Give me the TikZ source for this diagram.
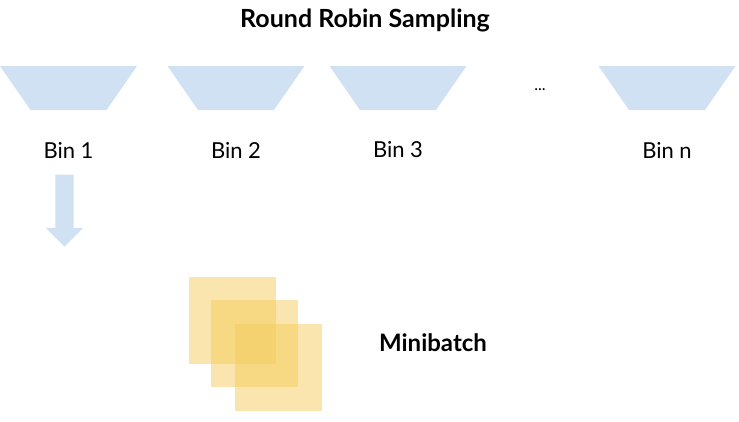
\documentclass[tikz,border=0pt]{standalone}
\usepackage{fontspec}
\setmainfont{Lato}
\usetikzlibrary{shapes.arrows}
\definecolor{binblue}{RGB}{207,225,243}
\definecolor{batchyellow}{RGB}{244,204,92}
\tikzset{
  bin/.style={fill=binblue},
  binlabel/.style={font=\fontsize{22}{25}\selectfont},
  sample/.style={rectangle,fill=batchyellow,fill opacity=0.5,minimum size=87pt,inner sep=0pt},
}
\begin{document}
\begin{tikzpicture}[x=1pt,y=-1pt]
\useasboundingbox (0,0) rectangle (739,421);
% title
\node[font=\fontsize{25}{28}\selectfont\bfseries] (title) at (365,20) {Round Robin Sampling};
% bins
\foreach \x/\name/\lab in {68.5/b1/1, 236/b2/2, 398/b3/3, 667/bn/n} {
  \fill[bin] (\x-68.5,66) -- (\x+68.5,66) -- (\x+38,110) -- (\x-38,110) -- cycle;
  \node[binlabel] (\name) at (\x,150) {Bin \lab};
}
\node[font=\fontsize{16}{18}\selectfont] (dots) at (540,90) {...};
% pick from bin 1
\node[single arrow,fill=binblue,rotate=-90,minimum height=72pt,minimum width=37pt,
  single arrow head extend=9.5pt,inner xsep=0pt,inner ysep=9pt] (pick) at (64.5,206) {};
% minibatch
\node[sample] (s1) at (232,320) {};
\node[sample] (s2) at (254.5,343) {};
\node[sample] (s3) at (278.5,367.5) {};
\node[font=\fontsize{24}{27}\selectfont\bfseries] (batch) at (433,343) {Minibatch};
\end{tikzpicture}
\end{document}
